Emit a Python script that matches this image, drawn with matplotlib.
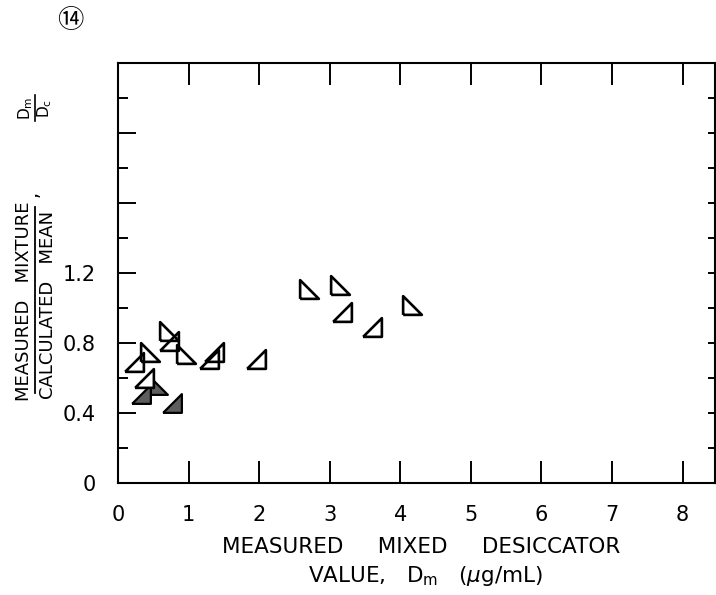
import numpy as np
import matplotlib
matplotlib.use('Agg')
from matplotlib import pyplot as plt
from matplotlib.lines import Line2D

plt.rcParams['mathtext.fontset'] = 'dejavusans'
plt.rcParams['font.family'] = ['DejaVu Sans', 'Noto Sans CJK JP']

# open triangles, right angle at lower left
open_left_x = [2.71, 3.15, 4.16, 0.72, 0.97, 0.45]
open_left_y = [1.11, 1.13, 1.02, 0.87, 0.74, 0.75]
# open triangles, right angle at lower right
open_right_x = [3.18, 3.60, 1.96, 1.36, 1.29, 0.22, 0.72]
open_right_y = [0.98, 0.89, 0.71, 0.75, 0.71, 0.69, 0.81]
# open triangle lying over the shaded ones
over_right_x = [0.37]
over_right_y = [0.60]
# shaded triangles
filled_left_x = [0.57]
filled_left_y = [0.56]
filled_right_x = [0.33, 0.76]
filled_right_y = [0.51, 0.46]

x_ticks = list(range(9))
y_major = [0, 0.4, 0.8, 1.2, 1.6, 2.0]
y_major_labels = ['0', '0.4', '0.8', '1.2', '', '']
y_minor = [0.2, 0.6, 1.0, 1.4, 1.8, 2.2]

W, H = 716, 595


def px(x, y):
    return x / W, 1 - y / H


tri_left = [(-1, -1), (1, -1), (-1, 1), (-1, -1)]
tri_right = [(-1, -1), (1, -1), (1, 1), (-1, -1)]

fig = plt.figure(figsize=(W / 100, H / 100), dpi=100)
ax = fig.add_axes([118 / W, 112 / H, 597 / W, 420 / H])

ms = 13.5
ax.plot(filled_left_x, filled_left_y, ls='none', marker=tri_left, ms=ms,
        mfc='#5e5e5e', mec='black', mew=1.6)
ax.plot(filled_right_x, filled_right_y, ls='none', marker=tri_right, ms=ms,
        mfc='#5e5e5e', mec='black', mew=1.6)
ax.plot(open_left_x, open_left_y, ls='none', marker=tri_left, ms=ms,
        mfc='none', mec='black', mew=1.9)
ax.plot(open_right_x, open_right_y, ls='none', marker=tri_right, ms=ms,
        mfc='none', mec='black', mew=1.9)
ax.plot(over_right_x, over_right_y, ls='none', marker=tri_right, ms=ms,
        mfc='white', mec='black', mew=1.9)

ax.set_xlim(0, 8.46)
ax.set_ylim(0, 2.4)
ax.set_xticks(x_ticks, labels=[str(v) for v in x_ticks])
ax.set_yticks(y_major, labels=y_major_labels)
ax.set_yticks(y_minor, minor=True)
ax.tick_params(axis='x', which='major', direction='in', top=True, bottom=True,
               length=16, width=1.4, labelsize=15, pad=16)
ax.tick_params(axis='y', which='major', direction='in', left=True, right=False,
               length=13, width=1.4, labelsize=15, pad=16)
ax.tick_params(axis='y', which='minor', direction='in', left=True, right=False,
               length=7, width=1.4)
for s in ax.spines.values():
    s.set_linewidth(1.5)

# short ticks along the right edge
sec = ax.secondary_yaxis('right')
sec.set_yticks(np.arange(0.2, 2.4, 0.2))
sec.tick_params(direction='in', length=5, width=1.4, labelright=False)

# x axis title
fig.text(*px(421, 547), 'MEASURED     MIXED     DESICCATOR', fontsize=15.5,
         ha='center', va='center')
fig.text(*px(425, 576), r'VALUE,   $\mathrm{D_m}$   ($\mu$g/mL)', fontsize=15.5,
         ha='center', va='center')

# y axis title as a fraction
fig.text(*px(24, 301), 'MEASURED   MIXTURE', fontsize=13, rotation=90,
         ha='center', va='center')
fig.text(*px(48, 305), 'CALCULATED   MEAN', fontsize=13, rotation=90,
         ha='center', va='center')
fig.add_artist(Line2D([35 / W, 35 / W], [1 - 207 / H, 1 - 393 / H],
                      color='black', lw=1.3))
fig.text(*px(32, 194), ',', fontsize=14, rotation=90, ha='center', va='center')
fig.text(*px(26, 108), r'$\mathrm{D_m}$', fontsize=11, rotation=90,
         ha='center', va='center')
fig.text(*px(45, 108), r'$\mathrm{D_c}$', fontsize=11, rotation=90,
         ha='center', va='center')
fig.add_artist(Line2D([35 / W, 35 / W], [1 - 95 / H, 1 - 121 / H],
                      color='black', lw=1.2))

fig.text(*px(70, 21), '⑭', fontsize=19, ha='center', va='center')

fig.savefig('out.png', dpi=100)
